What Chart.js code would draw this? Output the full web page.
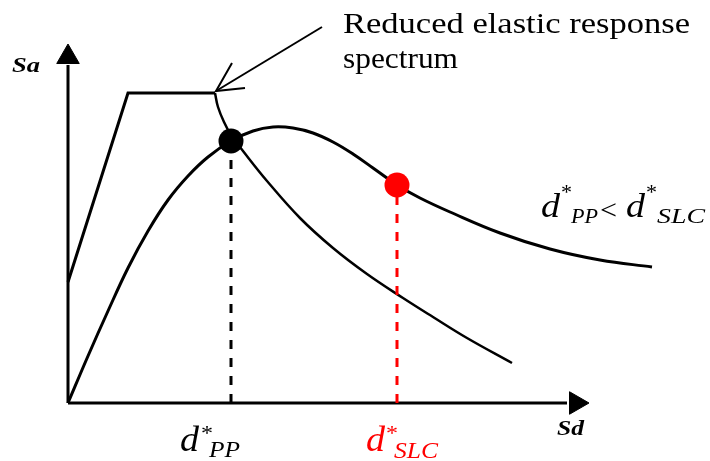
<!DOCTYPE html>
<html>
<head>
<meta charset="utf-8">
<script src="https://cdn.jsdelivr.net/npm/chart.js@4.4.1/dist/chart.umd.min.js"></script>
<style>
  body { margin: 0; background: #fff; }
  canvas { display: block; }
</style>
</head>
<body>
<canvas id="chart" width="710" height="461"></canvas>
<script>
// capacity curve (Sd, Sa) - schematic units
const capX = [0, 20, 40, 60, 80, 100, 120, 140, 163, 185, 205, 225, 245, 265, 285, 305, 329, 352, 382, 432, 482, 532, 584];
const capY = [0, 47, 92, 135, 172, 203, 227, 246, 262, 272, 276, 275, 270, 261, 249, 235, 218, 205, 191, 170, 154, 143, 136];

// reduced elastic spectrum: straight part + descending branch
const specX = [0, 60, 147];
const specY = [121, 310, 310];
const demX = [147, 150, 156, 163, 175, 199, 232, 265, 299, 335, 365, 399, 444];
const demY = [310, 296, 281, 268, 252, 222, 185, 155, 129, 105, 86, 65, 40];

// performance point and SLC point
const ppPoint = [163, 262];
const slcPoint = [329, 218];

// axes and the annotation arrow
const axisYTop = 338;
const axisXEnd = 499;
const noteLineX = [254, 148];
const noteLineY = [376, 312];
const noteHeadX = [164, 148, 177];
const noteHeadY = [340, 312, 315];

const noteText = ['Reduced elastic response', 'spectrum'];
const axisNames = ['Sa', 'Sd'];

const pts = (xs, ys) => xs.map((x, i) => ({ x: x, y: ys[i] }));

function line(data, color, width, extra) {
    return Object.assign({
        type: 'line',
        data: data,
        borderColor: color,
        borderWidth: width,
        pointRadius: 0,
        pointHoverRadius: 0,
        fill: false,
        tension: 0,
        clip: false
    }, extra || {});
}

// text drawn with a horizontal stretch so that it fills the given width
function txt(ctx, s, x, y, font, color, w) {
    ctx.save();
    ctx.font = font;
    ctx.fillStyle = color;
    ctx.textBaseline = 'alphabetic';
    const m = ctx.measureText(s).width;
    ctx.translate(x, y);
    if (w) ctx.scale(w / m, 1);
    ctx.fillText(s, 0, 0);
    ctx.restore();
}

const labels = {
    id: 'labels',
    afterDraw(chart) {
        const ctx = chart.ctx;
        const serif = '"Liberation Serif", "Times New Roman", serif';
        txt(ctx, noteText[0], 343, 33, '30px ' + serif, '#000', 347);
        txt(ctx, noteText[1], 343, 68, '30px ' + serif, '#000', 115);
        txt(ctx, axisNames[0], 12, 72, 'italic bold 22px ' + serif, '#000', 28);
        txt(ctx, axisNames[1], 557, 435, 'italic bold 22px ' + serif, '#000', 27);

        // d*PP under the black dashed line
        txt(ctx, 'd', 180, 451, 'italic 35px ' + serif, '#000', 19);
        txt(ctx, '*', 201, 440, '22px ' + serif, '#000', 12);
        txt(ctx, 'PP', 209, 457, 'italic 23px ' + serif, '#000', 31);

        // d*SLC under the red dashed line
        txt(ctx, 'd', 366, 451, 'italic 35px ' + serif, '#ff0000', 19);
        txt(ctx, '*', 386, 440, '22px ' + serif, '#ff0000', 12);
        txt(ctx, 'SLC', 394, 458, 'italic 23px ' + serif, '#ff0000', 44);

        // d*PP < d*SLC
        txt(ctx, 'd', 541, 217, 'italic 33px ' + serif, '#000', 19);
        txt(ctx, '*', 561, 199, '21px ' + serif, '#000', 11);
        txt(ctx, 'PP', 571, 223, 'italic 22px ' + serif, '#000', 27);
        txt(ctx, '<', 600, 219, '27px ' + serif, '#000', 17);
        txt(ctx, 'd', 626, 217, 'italic 33px ' + serif, '#000', 19);
        txt(ctx, '*', 646, 199, '21px ' + serif, '#000', 11);
        txt(ctx, 'SLC', 657, 223, 'italic 22px ' + serif, '#000', 48);
    }
};

new Chart(document.getElementById('chart').getContext('2d'), {
    type: 'line',
    data: {
        datasets: [
            // dots on top
            line([{ x: ppPoint[0], y: ppPoint[1] }], '#000', 0, {
                showLine: false, pointRadius: 12.5, pointBackgroundColor: '#000', pointBorderWidth: 0, order: 0
            }),
            line([{ x: slcPoint[0], y: slcPoint[1] }], '#ff0000', 0, {
                showLine: false, pointRadius: 12.5, pointBackgroundColor: '#ff0000', pointBorderWidth: 0, order: 0
            }),
            // dashed drops
            line([{ x: ppPoint[0], y: 0 }, { x: ppPoint[0], y: ppPoint[1] }], '#000', 3, { borderDash: [9, 9], order: 1 }),
            line([{ x: slcPoint[0], y: 0 }, { x: slcPoint[0], y: slcPoint[1] }], '#ff0000', 3, { borderDash: [9, 9], order: 1 }),
            // curves
            line(pts(capX, capY), '#000', 3, { tension: 0.4, order: 2 }),
            line(pts(demX, demY), '#000', 2.5, { tension: 0.4, order: 2 }),
            line(pts(specX, specY), '#000', 3, { order: 2 }),
            // annotation arrow
            line(pts(noteLineX, noteLineY), '#000', 2, { order: 2 }),
            line(pts(noteHeadX, noteHeadY), '#000', 2, { order: 2 }),
            // axes
            line([{ x: 0, y: 0 }, { x: 0, y: axisYTop }], '#000', 3, { order: 3 }),
            line([{ x: 0, y: 0 }, { x: axisXEnd, y: 0 }], '#000', 3, { order: 3 }),
            line([{ x: 0, y: axisYTop + 8 }], '#000', 1, {
                showLine: false, pointStyle: 'triangle', pointRadius: 13, rotation: 0,
                pointBackgroundColor: '#000', pointBorderColor: '#000', order: 3
            }),
            line([{ x: axisXEnd + 9, y: 0 }], '#000', 1, {
                showLine: false, pointStyle: 'triangle', pointRadius: 13, rotation: 90,
                pointBackgroundColor: '#000', pointBorderColor: '#000', order: 3
            })
        ]
    },
    options: {
        responsive: false,
        animation: false,
        layout: { autoPadding: false, padding: { left: 68, right: 10, top: 0, bottom: 58 } },
        scales: {
            x: { type: 'linear', min: 0, max: 632, display: false },
            y: { type: 'linear', min: 0, max: 403, display: false }
        },
        plugins: {
            legend: { display: false },
            tooltip: { enabled: false }
        },
        events: []
    },
    plugins: [labels]
});
</script>
</body>
</html>
